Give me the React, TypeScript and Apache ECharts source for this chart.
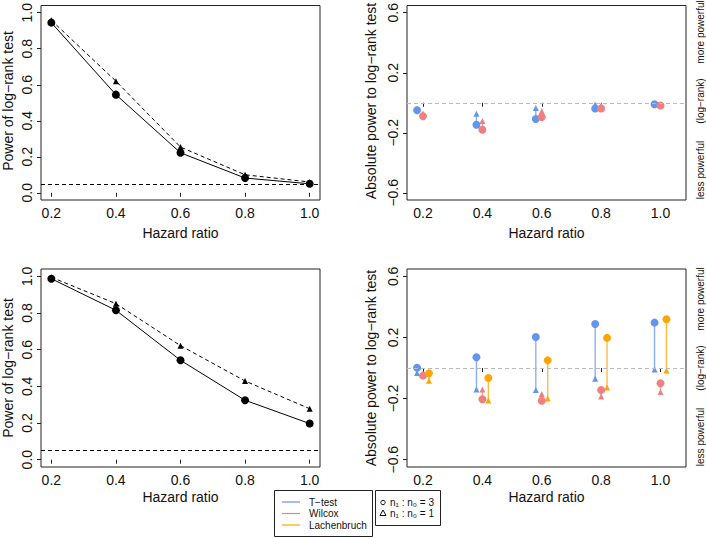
import React, { useEffect, useRef } from "react";
import * as echarts from "echarts";

const FONT = "'Liberation Sans', Arial, Helvetica, sans-serif";

const hazardRatios = [0.2, 0.4, 0.6, 0.8, 1.0];
const powerTicks = [0, 0.2, 0.4, 0.6, 0.8, 1.0];
const diffTicks = [-0.6, -0.2, 0.2, 0.6];
const alphaLevel = 0.05;
const dodge = 0.02;

// Power of log-rank test (left panels): ratio 3 (circle, solid) / ratio 1 (triangle, dashed)
const powerTopRatio3 = [0.945, 0.545, 0.222, 0.082, 0.05];
const powerTopRatio1 = [0.958, 0.62, 0.254, 0.1, 0.06];
const powerBotRatio3 = [0.987, 0.815, 0.542, 0.324, 0.197];
const powerBotRatio1 = [0.995, 0.851, 0.622, 0.429, 0.278];

// Absolute power relative to log-rank (top-right)
const topTtest3 = [-0.05, -0.146, -0.108, -0.038, -0.01];
const topTtest1 = [-0.04, -0.074, -0.035, -0.012, -0.008];
const topWilcox3 = [-0.09, -0.18, -0.095, -0.038, -0.018];
const topWilcox1 = [-0.072, -0.122, -0.056, -0.018, -0.014];

// Absolute power relative to log-rank (bottom-right)
const botTtest3 = [0.002, 0.07, 0.203, 0.288, 0.297];
const botTtest1 = [-0.033, -0.14, -0.144, -0.07, -0.009];
const botWilcox3 = [-0.05, -0.205, -0.214, -0.144, -0.1];
const botWilcox1 = [-0.04, -0.14, -0.17, -0.186, -0.157];
const botLach3 = [-0.035, -0.065, 0.05, 0.197, 0.319];
const botLach1 = [-0.083, -0.212, -0.2, -0.127, -0.017];

const BLUE = "#6495ED";
const RED = "#F08080";
const ORANGE = "#FFA500";

const fmt = (v: number) => (v < 0 ? "\u2212" : "") + Math.abs(v).toFixed(1);

function xAxisCfg(gridIndex: number, min: number, max: number) {
  return {
    type: "value",
    gridIndex,
    min,
    max,
    axisLine: { show: false },
    splitLine: { show: false },
    axisTick: { show: true, length: 4, customValues: hazardRatios, lineStyle: { color: "#222" } },
    axisLabel: {
      customValues: hazardRatios,
      formatter: fmt,
      fontSize: 14,
      color: "#111",
      margin: 6,
      fontFamily: FONT,
    },
  };
}

function yAxisCfg(gridIndex: number, min: number, max: number, ticks: number[]) {
  return {
    type: "value",
    gridIndex,
    min,
    max,
    axisLine: { show: false },
    splitLine: { show: false },
    axisTick: { show: true, length: 4, customValues: ticks, lineStyle: { color: "#222" } },
    axisLabel: {
      customValues: ticks,
      formatter: fmt,
      rotate: 90,
      fontSize: 14,
      color: "#111",
      margin: 7,
      fontFamily: FONT,
    },
  };
}

function pts(xs: number[], ys: number[], off = 0) {
  return xs.map((x, i) => [x + off, ys[i]]);
}

function scatter(ax: number, xs: number[], ys: number[], off: number, color: string, symbol: string, size: number) {
  return {
    type: "scatter",
    xAxisIndex: ax,
    yAxisIndex: ax,
    symbol,
    symbolSize: size,
    itemStyle: { color, opacity: 1 },
    data: pts(xs, ys, off),
    z: symbol === "circle" ? 4 : 3,
  };
}

function segments(ax: number, xs: number[], a: number[], b: number[], off: number, color: string) {
  return {
    type: "custom",
    xAxisIndex: ax,
    yAxisIndex: ax,
    data: xs.map((x, i) => [x + off, a[i], b[i]]),
    encode: { x: 0, y: [1, 2] },
    renderItem: (_p: any, api: any) => {
      const p1 = api.coord([api.value(0), api.value(1)]);
      const p2 = api.coord([api.value(0), api.value(2)]);
      return {
        type: "line",
        shape: { x1: p1[0], y1: p1[1], x2: p2[0], y2: p2[1] },
        style: { stroke: color, lineWidth: 1.4, opacity: 0.75 },
      };
    },
    z: 2,
  };
}

function powerLines(ax: number, r3: number[], r1: number[]) {
  return [
    {
      type: "line",
      xAxisIndex: ax,
      yAxisIndex: ax,
      data: pts(hazardRatios, r3),
      symbol: "circle",
      symbolSize: 8,
      itemStyle: { color: "#000" },
      lineStyle: { color: "#000", width: 1 },
      markLine: {
        silent: true,
        symbol: "none",
        label: { show: false },
        lineStyle: { type: [4, 3], color: "#000", width: 1 },
        data: [{ yAxis: alphaLevel }],
      },
    },
    {
      type: "line",
      xAxisIndex: ax,
      yAxisIndex: ax,
      data: pts(hazardRatios, r1),
      symbol: "triangle",
      symbolSize: 6,
      itemStyle: { color: "#000" },
      lineStyle: { color: "#000", width: 1, type: [4, 3] },
    },
  ];
}

function zeroLine(ax: number) {
  return {
    type: "line",
    xAxisIndex: ax,
    yAxisIndex: ax,
    data: [],
    markLine: {
      silent: true,
      symbol: "none",
      label: { show: false },
      lineStyle: { type: [4, 3], color: "#bbbbbb", width: 1 },
      data: [{ yAxis: 0 }],
    },
  };
}

function vText(text: string, x: number, y: number, size: number) {
  return {
    type: "text",
    x,
    y,
    rotation: Math.PI / 2,
    style: { text, fontSize: size, fontFamily: FONT, fill: "#111", align: "center", verticalAlign: "middle" },
  };
}

function hText(text: string, x: number, y: number, size: number, align = "center") {
  return {
    type: "text",
    x,
    y,
    style: { text, fontSize: size, fontFamily: FONT, fill: "#111", align, verticalAlign: "middle" },
  };
}

export default function App() {
  const ref = useRef<HTMLDivElement>(null);
  useEffect(() => {
    if (!ref.current) return;
    const chart = echarts.init(ref.current, null, { renderer: "svg" });
    const gridBase = { show: true, borderColor: "#222", borderWidth: 1, backgroundColor: "transparent", width: 279, height: 198 };
    const grids = [
      { ...gridBase, left: 41, top: 2 },
      { ...gridBase, left: 407, top: 2 },
      { ...gridBase, left: 41, top: 269 },
      { ...gridBase, left: 407, top: 269 },
    ];
    const rMin = 0.146, rMax = 1.086;
    const option: any = {
      animation: false,
      backgroundColor: "#fff",
      grid: grids,
      xAxis: [
        xAxisCfg(0, 0.168, 1.032),
        xAxisCfg(1, rMin, rMax),
        xAxisCfg(2, 0.168, 1.032),
        xAxisCfg(3, rMin, rMax),
      ],
      yAxis: [
        yAxisCfg(0, -0.04, 1.04, powerTicks),
        yAxisCfg(1, -0.648, 0.648, diffTicks),
        yAxisCfg(2, -0.04, 1.04, powerTicks),
        yAxisCfg(3, -0.648, 0.648, diffTicks),
      ],
      series: [
        ...powerLines(0, powerTopRatio3, powerTopRatio1),
        ...powerLines(2, powerBotRatio3, powerBotRatio1),
        zeroLine(1),
        zeroLine(3),
        // top-right
        segments(1, hazardRatios, topTtest3, topTtest1, -dodge, BLUE),
        segments(1, hazardRatios, topWilcox3, topWilcox1, 0, RED),
        scatter(1, hazardRatios, topTtest1, -dodge, BLUE, "triangle", 6),
        scatter(1, hazardRatios, topWilcox1, 0, RED, "triangle", 6),
        scatter(1, hazardRatios, topTtest3, -dodge, BLUE, "circle", 8),
        scatter(1, hazardRatios, topWilcox3, 0, RED, "circle", 8),
        // bottom-right
        segments(3, hazardRatios, botTtest3, botTtest1, -dodge, BLUE),
        segments(3, hazardRatios, botWilcox3, botWilcox1, 0, RED),
        segments(3, hazardRatios, botLach3, botLach1, dodge, ORANGE),
        scatter(3, hazardRatios, botTtest1, -dodge, BLUE, "triangle", 6),
        scatter(3, hazardRatios, botWilcox1, 0, RED, "triangle", 6),
        scatter(3, hazardRatios, botLach1, dodge, ORANGE, "triangle", 6),
        scatter(3, hazardRatios, botTtest3, -dodge, BLUE, "circle", 8),
        scatter(3, hazardRatios, botWilcox3, 0, RED, "circle", 8),
        scatter(3, hazardRatios, botLach3, dodge, ORANGE, "circle", 8),
      ],
      graphic: [
        // axis titles
        vText("Power of log\u2212rank test", 8, 101, 14),
        vText("Power of log\u2212rank test", 8, 368, 14),
        vText("Absolute power to log\u2212rank test", 371, 101, 14),
        vText("Absolute power to log\u2212rank test", 371, 368, 14),
        hText("Hazard ratio", 180.5, 233, 14),
        hText("Hazard ratio", 546.5, 233, 14),
        hText("Hazard ratio", 180.5, 497, 14),
        hText("Hazard ratio", 546.5, 497, 14),
        // side notes
        vText("more powerful", 700, 32, 10),
        vText("(log\u2212rank)", 700, 101, 10),
        vText("less powerful", 700, 170, 10),
        vText("more powerful", 700, 299, 10),
        vText("(log\u2212rank)", 700, 368, 10),
        vText("less powerful", 700, 437, 10),
        // legend 1
        { type: "rect", shape: { x: 274.5, y: 490.5, width: 98, height: 46 }, style: { fill: "#fff", stroke: "#222", lineWidth: 1 } },
        { type: "line", shape: { x1: 282, y1: 502, x2: 300, y2: 502 }, style: { stroke: BLUE, lineWidth: 1.2 } },
        { type: "line", shape: { x1: 282, y1: 513.5, x2: 300, y2: 513.5 }, style: { stroke: RED, lineWidth: 1.2 } },
        { type: "line", shape: { x1: 282, y1: 525, x2: 300, y2: 525 }, style: { stroke: ORANGE, lineWidth: 1.2 } },
        hText("T\u2212test", 309, 502, 10, "left"),
        hText("Wilcox", 309, 513.5, 10, "left"),
        hText("Lachenbruch", 309, 525, 10, "left"),
        // legend 2
        { type: "rect", shape: { x: 375.5, y: 490.5, width: 65, height: 35 }, style: { fill: "#fff", stroke: "#222", lineWidth: 1 } },
        { type: "circle", shape: { cx: 383, cy: 502.5, r: 2.2 }, style: { fill: "none", stroke: "#111", lineWidth: 1 } },
        { type: "polygon", shape: { points: [[383, 510], [380, 515.5], [386, 515.5]] }, style: { fill: "none", stroke: "#111", lineWidth: 1 } },
        hText("n\u2081 : n\u2080 = 3", 390, 502.5, 10, "left"),
        hText("n\u2081 : n\u2080 = 1", 390, 513.5, 10, "left"),
      ],
    };
    chart.setOption(option);
    return () => chart.dispose();
  }, []);
  return <div ref={ref} style={{ position: "fixed", left: 0, top: 0, width: 706, height: 537 }} />;
}
